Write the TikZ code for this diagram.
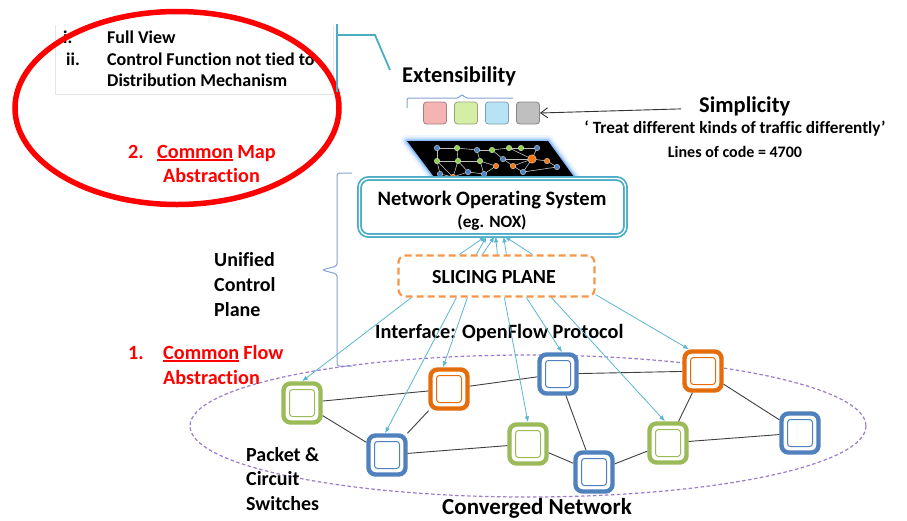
\documentclass[tikz,border=0pt]{standalone}
\usepackage{fontspec}
\setmainfont{Carlito}[Ligatures=NoCommon]
\usetikzlibrary{arrows.meta}

\definecolor{ringred}{HTML}{FF0000}
\definecolor{nosteal}{HTML}{4BACC6}
\definecolor{linkteal}{HTML}{5BB7D1}
\definecolor{bracketblue}{HTML}{86A3D3}
\definecolor{sliceorange}{HTML}{F79646}
\definecolor{swgreen}{HTML}{9BBB59}
\definecolor{sworange}{HTML}{E46C0A}
\definecolor{swblue}{HTML}{4F81BD}
\definecolor{netpurple}{HTML}{9B7BCB}
\definecolor{dotblue}{HTML}{4F81BD}
\definecolor{dotgreen}{HTML}{92D050}
\definecolor{dotorange}{HTML}{F07818}
\definecolor{boxpink}{HTML}{F4B4B4}
\definecolor{boxgreen}{HTML}{D4EEA6}
\definecolor{boxcyan}{HTML}{B6E4F6}
\definecolor{boxgray}{HTML}{BFBFBF}

% red underline for the emphasised word
\newcommand\redul[1]{\leavevmode\setbox0\hbox{#1}\rlap{\color{ringred}\rule[-2.6pt]{\wd0}{1.5pt}}\box0}
\newcommand\fs[1]{\bfseries\fontsize{#1}{#1}\selectfont}

\tikzset{
  txt/.style={inner sep=0pt, anchor=base west, font=\fs{18}},
  sidetxt/.style={inner sep=0pt, anchor=base west, font=\fs{20}},
  bigtxt/.style={inner sep=0pt, anchor=base west, font=\fs{22.5}},
  redtxt/.style={inner sep=0pt, anchor=base west, text=ringred, font=\fs{20.2}},
  smallbox/.style={draw=#1!70!black, fill=#1, rounded corners=3pt, line width=0.8pt,
    minimum width=23pt, minimum height=22pt, inner sep=0pt},
  swout/.style={draw=#1, fill=white, rounded corners=7pt, line width=4.4pt,
    minimum width=37pt, minimum height=39pt, inner sep=0pt},
  swin/.style={draw=#1, rounded corners=3pt, line width=1pt,
    minimum width=25pt, minimum height=27pt, inner sep=0pt},
  link/.style={draw=black!75, line width=0.9pt},
  ofarrow/.style={draw=linkteal, line width=0.8pt, -{Latex[length=6pt,width=4.5pt]}},
  dot/.style={circle, inner sep=0pt, minimum size=5.5pt, fill=#1, draw=white!80!#1, line width=0.3pt},
  mesh/.style={draw=white!75!black, line width=0.6pt},
}

\begin{document}
\begin{tikzpicture}[x=1pt,y=-1pt]
\useasboundingbox[fill=white] (0,0) rectangle (907,520);

% ---------- text box with the two properties ----------
\draw[black!10, line width=0.6pt] (55,25) -- (55,94) -- (333,94) -- (333,25);
\node[txt] (li1) at (63,43) {i.};
\node[txt] (lt1) at (107,43) {Full View};
\node[txt] (li2) at (66,65) {ii.};
\node[txt] (lt2) at (107,65) {Control Function not tied to};
\node[txt] (lt3) at (107,86) {Distribution Mechanism};

% ---------- Common Map Abstraction ----------
\node[redtxt] (m1) at (128,158) {\makebox[29pt][l]{2.}\redul{Common}\hspace{4pt}Map};
\node[redtxt] (m2) at (163,182) {Abstraction};
\draw[ringred, line width=5.5pt] (177,108) ellipse [x radius=162, y radius=96.5];

% ---------- bracket to the extensibility label ----------
\draw[nosteal, line width=1.8pt] (337,92) -- (337,24);
\draw[nosteal, line width=1.8pt] (337,35) -- (375,35) -- (390,70);

% ---------- Extensibility ----------
\node[bigtxt] (ext) at (402,82) {Extensibility};
\draw[bracketblue, line width=1pt, rounded corners=2pt]
  (407,108) -- (407,98) -- (459,98) -- (462,94) -- (465,98) -- (513,98);
\node[smallbox=boxpink]  (b1) at (435,113) {};
\node[smallbox=boxgreen] (b2) at (466,113) {};
\node[smallbox=boxcyan]  (b3) at (497,113) {};
\node[smallbox=boxgray]  (b4) at (528,113) {};

% ---------- Simplicity ----------
\node[bigtxt] (simp) at (699,112) {Simplicity};
\node[inner sep=0pt, anchor=base, font=\fs{17.2}] (treat) at (735,133)
  {‘ Treat different kinds of traffic differently’};
\node[inner sep=0pt, anchor=base, font=\fs{16}] (loc) at (735,157)
  {Lines of code = 4700};
\draw[black!80, line width=0.9pt, -{Straight Barb[length=7pt,width=10pt]}]
  ([xshift=-18pt,yshift=-3pt]simp.west) -- (b4.east);

% ---------- network map on a black plane ----------
\foreach \w/\o in {12/0.10, 8/0.18, 5/0.3, 3/0.5}
  \draw[blue!55!cyan!60, line width=\w pt, opacity=\o, line join=round]
    (407,141) -- (548,141) -- (577,181) -- (437,181) -- cycle;
\fill[black] (407,141) -- (548,141) -- (577,181) -- (437,181) -- cycle;

\coordinate (d1) at (437,148);  \coordinate (d2) at (457,148);
\coordinate (d3) at (477,150);  \coordinate (d4) at (492,150);
\coordinate (d5) at (509,148);  \coordinate (d6) at (521,148);
\coordinate (d7) at (537,148);  \coordinate (d8) at (437,161);
\coordinate (d9) at (458,161);  \coordinate (d10) at (480,161);
\coordinate (d11) at (503,159); \coordinate (d12) at (496,166);
\coordinate (d13) at (513,166); \coordinate (d14) at (532,159);
\coordinate (d15) at (547,161); \coordinate (d16) at (440,174);
\coordinate (d17) at (453,177); \coordinate (d18) at (468,172);
\coordinate (d19) at (484,174); \coordinate (d20) at (523,172);
\coordinate (d21) at (557,167);
\foreach \a/\b in {d1/d2,d2/d3,d3/d4,d4/d5,d5/d6,d6/d7,d1/d8,d2/d9,d3/d10,d4/d11,
  d5/d14,d7/d14,d8/d9,d9/d10,d8/d16,d8/d17,d9/d17,d9/d18,d10/d19,d10/d12,d11/d13,
  d12/d19,d18/d19,d16/d17,d17/d18,d13/d14,d14/d15,d15/d21,d14/d20,d20/d21,d13/d20,d11/d14}
  \draw[mesh] (\a) -- (\b);
\foreach \p/\c in {d1/dotblue,d2/dotgreen,d3/dotblue,d4/dotgreen,d5/dotgreen,d6/dotgreen,
  d7/dotblue,d8/dotgreen,d9/dotgreen,d10/dotgreen,d11/dotblue,d12/dotorange,d13/dotorange,
  d15/dotorange,d16/dotblue,d17/dotorange,d18/dotblue,d19/dotblue,d20/dotblue,d21/dotblue}
  \node[dot=\c] at (\p) {};
\node[circle, inner sep=0pt, minimum width=6.5pt, minimum height=8.5pt, fill=dotorange,
  draw=white!80!dotorange, line width=0.3pt] at (d14) {};

% ---------- Network Operating System ----------
\node[draw=nosteal, line width=1.8pt, double=white, double distance=1.3pt,
  rounded corners=9pt, fill=white, minimum width=266pt, minimum height=57pt, inner sep=0pt]
  (nos) at (492.5,207) {};
\node[inner sep=0pt, anchor=base, font=\fs{20.5}] (nost) at (492,205)
  {Network Operating System};
\node[inner sep=0pt, anchor=base, font=\fs{17.2}] (nox) at (492,227)
  {(eg. NOX)};

% ---------- Slicing plane ----------
\node[draw=sliceorange, line width=2.2pt, dash pattern=on 7pt off 4pt, rounded corners=7pt,
  minimum width=196pt, minimum height=41pt, inner sep=0pt] (slice) at (496.5,276) {};
\node[inner sep=0pt, anchor=base, font=\fs{20}] (slt) at (494,283)
  {SLICING PLANE};

\foreach \s/\e in {62/127, 79/128, 85/136, 100/137, 109/145, 135/146}
  \draw[ofarrow] ([xshift=\s pt]slice.north west) -- ([xshift=\e pt]nos.south west);

% ---------- Unified control plane brace ----------
\node[sidetxt] (u1) at (214,266) {Unified};
\node[sidetxt] (u2) at (214,291) {Control};
\node[sidetxt] (u3) at (214,316) {Plane};
\draw[bracketblue, line width=1pt, rounded corners=2.5pt]
  (352,173) -- (337,173) -- (337,266) -- (322,270) -- (337,274) -- (337,366) -- (352,366);

\node[inner sep=0pt, anchor=base west, font=\fs{20.3}] (ofp) at (375,338)
  {Interface: OpenFlow Protocol};

% ---------- Common Flow Abstraction ----------
\node[redtxt] (f1) at (128,359) {\makebox[35pt][l]{1.}\redul{Common}\hspace{4pt}Flow};
\node[redtxt] (f2) at (163,384) {Abstraction};

% ---------- converged network ----------
\draw[netpurple, line width=1.2pt, dash pattern=on 3.5pt off 2.5pt]
  (528,426) ellipse [x radius=338, y radius=71];

\node[swout=swgreen]  (s1) at (302,403) {};
\node[swout=sworange] (s2) at (449,389) {};
\node[swout=swblue]   (s3) at (558,374) {};
\node[swout=sworange] (s4) at (703,371) {};
\node[swout=swblue]   (s5) at (387,455) {};
\node[swout=swgreen]  (s6) at (528,444) {};
\node[swout=swblue]   (s7) at (594,472) {};
\node[swout=swgreen]  (s8) at (668,443) {};
\node[swout=swblue]   (s9) at (800,433) {};
\foreach \n/\c in {s1/swgreen,s2/sworange,s3/swblue,s4/sworange,s5/swblue,s6/swgreen,
  s7/swblue,s8/swgreen,s9/swblue}
  \node[swin=\c] at (\n) {};

\foreach \a/\b in {s1/s2,s1/s5,s2/s3,s2/s5,s3/s4,s3/s7,s5/s6,s6/s7,s7/s8,s4/s8,s4/s9,s8/s9}
  \draw[link] (\a) -- (\b);

\draw[ofarrow] ([xshift=14pt]slice.south west) -- (s1.north);
\draw[ofarrow] ([xshift=59pt]slice.south west) -- ([xshift=-2pt]s5.north);
\draw[ofarrow] ([xshift=70pt]slice.south west) -- ([xshift=-6pt]s2.north);
\draw[ofarrow] ([xshift=107pt]slice.south west) -- (s6.north);
\draw[ofarrow] ([xshift=129pt]slice.south west) -- ([xshift=4pt]s3.north);
\draw[ofarrow] ([xshift=154pt]slice.south west) -- ([xshift=-3pt]s8.north);
\draw[ofarrow] ([yshift=3pt]slice.south east) -- ([xshift=-14pt]s4.north);

\node[sidetxt] (p1) at (246,461) {Packet \&};
\node[sidetxt] (p2) at (246,485) {Circuit};
\node[sidetxt] (p3) at (246,510) {Switches};
\node[inner sep=0pt, anchor=base, font=\fs{23}] (conv) at (537,514)
  {Converged Network};
\end{tikzpicture}
\end{document}
